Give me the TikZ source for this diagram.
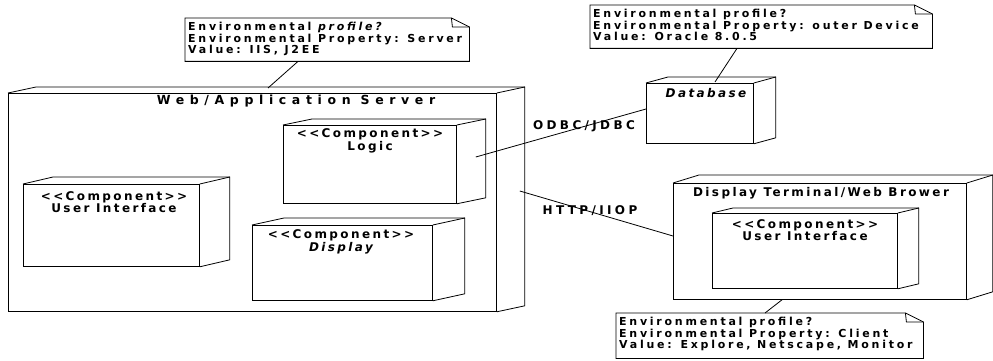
\documentclass[tikz,border=0pt]{standalone}
\usepackage{fontspec}
\usetikzlibrary{calc}
\newfontfamily\notefont[LetterSpace=25]{DejaVu Sans}
\newfontfamily\headfont[LetterSpace=45]{DejaVu Sans}
\newfontfamily\compfont[LetterSpace=20]{DejaVu Sans}
\newfontfamily\termfont[LetterSpace=20]{DejaVu Sans}
\newfontfamily\labfont[LetterSpace=28]{DejaVu Sans}
\tikzset{
  face/.style={draw, line width=0.8pt, inner sep=0pt, anchor=north west},
  notebox/.style={inner sep=0pt, anchor=north west},
  notetext/.style={inner sep=0pt, anchor=north west, align=left,
    font=\notefont\bfseries\fontsize{11}{10.6}\selectfont},
  headtext/.style={inner sep=0pt, font=\headfont\bfseries\fontsize{12.5}{13}\selectfont},
  comptext/.style={inner sep=0pt, align=center, font=\compfont\bfseries\fontsize{12}{11.5}\selectfont},
  termtext/.style={inner sep=0pt, font=\termfont\bfseries\fontsize{12}{12}\selectfont},
  labtext/.style={inner sep=0pt, font=\labfont\bfseries\fontsize{12}{12}\selectfont},
  conn/.style={line width=0.8pt},
}
\newcommand\depthbox[3]{%
  \draw[conn] (#1.north west) -- ++(#2,-#3) -- ($(#1.north east)+(#2,-#3)$)
    -- ($(#1.south east)+(#2,-#3)$) -- (#1.south east);
  \draw[conn] (#1.north east) -- ++(#2,-#3);}
\newcommand\noteshape[1]{%
  \draw[conn] (#1.north west) -- ($(#1.north east)+(-18,0)$) -- ($(#1.north east)+(0,9)$)
    -- (#1.south east) -- (#1.south west) -- cycle;
  \draw[conn] ($(#1.north east)+(-18,0)$) -- ++(1,9) -- ($(#1.north east)+(0,9)$);}
\begin{document}
\begin{tikzpicture}[x=1pt,y=-1pt]
\useasboundingbox (0,0) rectangle (993,361);
% Web/Application Server
\node[face, minimum width=488pt, minimum height=218pt] (srv) at (8,93) {};
\depthbox{srv}{28}{6}
\node[headtext] (srvt) at (296,101) {Web/Application Server};
% Logic
\node[face, minimum width=173pt, minimum height=78pt] (logic) at (283,125) {};
\depthbox{logic}{29}{6}
\node[comptext] (logict) at (370,141) {<<Component>>\\Logic};
% User Interface
\node[face, minimum width=176pt, minimum height=82pt] (ui) at (23,184) {};
\depthbox{ui}{30}{7}
\node[comptext] (uit) at (114,202) {<<Component>>\\User Interface};
% Display
\node[face, minimum width=180pt, minimum height=75pt] (disp) at (252,225) {};
\depthbox{disp}{32}{7}
\node[comptext] (dispt) at (341,242) {<<Component>>\\\itshape Display};
% Database
\node[face, minimum width=107pt, minimum height=60pt] (db) at (646,83) {};
\depthbox{db}{22}{6}
\node[termtext, font=\termfont\bfseries\itshape\fontsize{12}{12}\selectfont] (dbt) at (706,93) {Database};
% Display Terminal
\node[face, minimum width=293pt, minimum height=116pt] (term) at (673,183) {};
\depthbox{term}{26}{8}
\node[termtext] (termt) at (821,193) {Display Terminal/Web Brower};
\node[face, minimum width=185pt, minimum height=75pt] (tui) at (712,213) {};
\depthbox{tui}{21}{5}
\node[comptext] (tuit) at (805,230) {<<Component>>\\User Interface};
% Notes
\node[notebox, minimum width=284pt, minimum height=43pt] (n1) at (185,18) {};
\noteshape{n1}
\node[notetext] (n1t) at (188,22) {Environmental \textit{profile?}\\Environmental Property: Server\\Value: IIS, J2EE};
\node[notebox, minimum width=342pt, minimum height=43pt] (n2) at (590,5) {};
\noteshape{n2}
\node[notetext] (n2t) at (593,9) {Environmental profile?\\Environmental Property: outer Device\\Value: Oracle 8.0.5};
\node[notebox, minimum width=307pt, minimum height=45pt] (n3) at (616,313) {};
\noteshape{n3}
\node[notetext] (n3t) at (619,317) {Environmental profile?\\Environmental Property: Client\\Value: Explore, Netscape, Monitor};
% note connectors
\draw[conn] ($(n1.south west)+(113,0)$) -- ($(srv.north west)+(260,-5)$);
\draw[conn] ($(n2.south west)+(147,0)$) -- ($(db.north west)+(69,-1)$);
\draw[conn] ($(n3.north west)+(149,0)$) -- ($(term.south west)+(109,0)$);
% links
\draw[conn] ($(logic.north east)+(19,32)$) -- ($(db.north west)+(0,26)$);
\node[labtext] (odbc) at (584,126) {ODBC/JDBC};
\draw[conn] ($(srv.north east)+(23,98)$) -- ($(term.north west)+(0,53)$);
\node[labtext] (http) at (590,211) {HTTP/IIOP};
\end{tikzpicture}
\end{document}
